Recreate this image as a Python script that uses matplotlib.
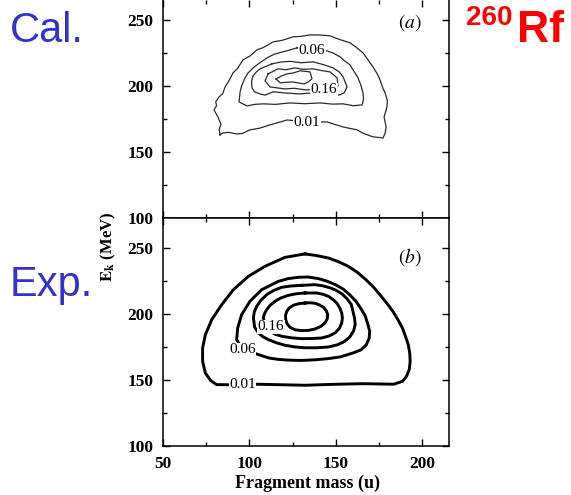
import matplotlib.pyplot as plt

plt.rcParams['mathtext.fontset'] = 'stix'
plt.rcParams['font.family'] = 'Liberation Serif'

# (a) calculated mass-energy distribution, contours
a_lev1_m = [83.0, 82.5, 83.5, 81.8, 79.5, 81.0, 80.5, 82.4, 84.5, 85.9, 88.0, 90.5, 93.0, 96.3, 100.5,
            104.4, 108.0, 113.7, 119.0, 125.2, 130.0, 135.1, 141.0, 146.6, 152.0, 158.2, 162.0, 165.7,
            169.0, 171.5, 174.0, 175.6, 177.0, 178.5, 179.8, 179.6, 177.9, 179.1, 178.5, 177.3, 171.5,
            166.0, 162.3, 154.2, 149.0, 144.9, 133.3, 121.8, 116.0, 112.0, 106.0, 100.3, 96.0, 92.8,
            88.0, 84.7, 83.0]
a_lev1_e = [162.9, 167.0, 171.0, 176.5, 181.8, 185.0, 188.0, 191.7, 194.0, 199.2, 203.5, 209.8, 213.0,
            219.7, 222.8, 227.3, 229.0, 233.3, 234.5, 237.1, 237.5, 238.6, 238.5, 237.9, 235.2, 232.6,
            229.0, 225.0, 219.0, 214.4, 209.0, 204.5, 199.0, 194.7, 189.0, 184.1, 176.5, 168.9, 164.0,
            160.6, 161.4, 164.0, 166.7, 168.9, 171.0, 172.7, 172.7, 174.2, 172.0, 170.5, 168.0, 166.7,
            164.0, 163.6, 164.8, 164.4, 162.9]
a_lev2_m = [127.5, 123.0, 119.4, 114.0, 110.2, 105.5, 102.1, 99.0, 96.9, 95.5, 94.6, 94.0, 98.6, 103.0,
            107.9, 115.0, 123.5, 132.0, 140.9, 148.0, 154.2, 160.0, 165.2, 166.0, 165.7, 164.5, 162.8,
            160.5, 158.2, 155.0, 152.4, 148.5, 144.9, 136.1, 127.5]
a_lev2_e = [228.8, 227.0, 225.8, 223.8, 221.2, 217.0, 213.6, 209.5, 204.5, 200.0, 195.5, 187.9, 184.8,
            186.0, 186.4, 186.0, 187.1, 186.5, 187.1, 186.2, 186.4, 185.0, 185.6, 190.0, 194.7, 200.5,
            206.1, 211.0, 215.9, 219.0, 222.0, 224.8, 226.5, 226.7, 228.8]
a_lev3_m = [113.1, 118.0, 123.5, 130.0, 136.8, 143.0, 148.4, 152.0, 154.2, 156.5, 155.0, 152.4, 146.0,
            140.9, 134.0, 129.3, 121.0, 113.7, 109.0, 106.1, 103.0, 101.5, 101.2, 102.1, 104.0, 106.1,
            113.1]
a_lev3_e = [216.7, 218.0, 218.6, 217.5, 218.2, 216.0, 213.6, 210.5, 206.8, 199.2, 195.0, 193.2, 192.8,
            193.2, 194.5, 193.9, 194.6, 195.5, 193.0, 193.9, 195.5, 198.5, 203.0, 207.6, 210.5, 212.9,
            216.7]
a_lev4_m = [110.8, 116.6, 121.0, 126.4, 131.0, 136.8, 142.0, 146.6, 150.7, 151.3, 143.2, 132.2, 126.0,
            120.6, 111.9, 109.0, 110.8]
a_lev4_e = [209.1, 212.9, 212.2, 213.6, 212.5, 212.9, 211.5, 210.6, 206.1, 200.0, 197.0, 197.0, 198.2,
            197.7, 199.2, 203.8, 209.1]
a_lev5_m = [115.4, 118.5, 121.8, 125.5, 129.3, 135.1, 136.2, 134.0, 131.6, 124.7, 117.7, 115.4]
a_lev5_e = [205.3, 207.5, 209.1, 209.8, 211.4, 210.6, 205.3, 203.0, 201.5, 203.0, 202.3, 205.3]

# (b) experimental distribution
b_lev1_m = [132.2, 139.0, 145.7, 151.5, 157.2, 162.5, 167.4, 171.7, 175.5, 179.3, 183.0, 186.0, 188.5,
            190.3, 191.9, 192.8, 193.0, 192.5, 191.0, 188.6, 183.5, 165.0, 145.7, 132.2, 118.7, 103.2,
            96.0, 81.0, 77.6, 74.5, 72.9, 72.9, 74.5, 78.2, 84.0, 90.7, 99.4, 109.0, 120.6, 132.2]
b_lev1_e = [245.5, 244.2, 242.4, 239.6, 236.1, 231.5, 226.0, 220.5, 214.6, 208.5, 202.0, 195.5, 189.4,
            183.0, 176.8, 170.0, 164.1, 158.0, 153.0, 149.0, 146.8, 147.2, 146.6, 146.0, 146.4, 146.8,
            146.3, 146.5, 149.5, 155.3, 164.1, 174.2, 184.3, 195.7, 207.1, 218.4, 228.5, 236.1, 242.9,
            245.5]
b_lev2_m = [96.1, 92.6, 93.2, 95.5, 100.3, 107.1, 116.7, 122.5, 128.3, 134.0, 139.9, 145.0, 149.8,
            154.3, 158.0, 161.5, 164.3, 167.0, 168.6, 169.6, 169.3, 167.6, 164.5, 160.2, 153.0, 145.7,
            138.0, 130.2, 123.5, 116.7, 111.5, 107.1, 104.2, 96.1]
b_lev2_e = [173.0, 180.6, 189.4, 199.5, 209.6, 218.4, 224.7, 226.8, 227.8, 228.0, 226.8, 224.8, 222.2,
            218.8, 214.6, 209.8, 204.5, 198.5, 191.9, 186.8, 181.8, 176.5, 172.8, 170.6, 167.6, 166.2,
            165.3, 164.8, 165.0, 165.6, 166.6, 168.4, 169.7, 173.0]
b_lev3_m = [130.2, 124.0, 118.7, 114.0, 110.0, 106.7, 104.2, 102.8, 102.3, 103.0, 105.2, 107.8, 110.9,
            115.5, 120.6, 126.5, 132.2, 139.0, 145.7, 150.8, 154.8, 158.0, 160.2, 161.2, 160.8, 159.0,
            156.5, 153.6, 149.8, 145.7, 141.8, 137.9, 130.2]
b_lev3_e = [221.7, 221.2, 220.2, 217.8, 214.6, 210.5, 205.8, 201.5, 197.0, 190.0, 185.6, 182.8, 180.6,
            178.2, 176.3, 175.0, 174.4, 174.4, 175.0, 176.6, 179.0, 182.5, 186.9, 192.0, 197.0, 207.1,
            211.5, 215.2, 218.2, 220.2, 221.5, 222.2, 221.7]
b_lev4_m = [132.2, 127.0, 122.5, 118.3, 114.8, 112.0, 110.0, 108.7, 108.0, 109.5, 111.9, 115.0, 118.7,
            124.5, 130.2, 136.0, 141.8, 146.0, 149.5, 152.0, 153.4, 153.8, 153.4, 152.2, 150.5, 148.3,
            145.7, 142.3, 138.9, 132.2]
b_lev4_e = [215.9, 215.3, 214.1, 212.2, 209.6, 206.6, 203.3, 200.2, 197.0, 190.5, 186.9, 184.6, 183.1,
            181.9, 181.3, 181.4, 181.8, 183.3, 185.6, 189.0, 193.2, 197.0, 200.8, 204.8, 208.3, 211.0,
            213.4, 215.0, 215.9, 215.9]
b_lev5_m = [132.2, 128.5, 125.4, 123.0, 121.6, 120.9, 121.0, 121.8, 123.5, 126.5, 130.2, 134.3, 137.9,
            141.2, 143.7, 145.0, 145.3, 144.5, 142.8, 140.5, 137.9, 135.0, 132.2]
b_lev5_e = [208.3, 207.8, 206.6, 204.5, 202.0, 199.0, 195.7, 192.5, 189.9, 188.0, 187.4, 187.6, 188.6,
            190.5, 193.2, 196.2, 199.5, 202.5, 205.1, 206.9, 208.1, 208.5, 208.3]

a_labels = ['0.06', '0.16', '0.01']
a_label_m = [136.1, 143.2, 133.2]
a_label_e = [226.7, 197.0, 172.2]
b_labels = ['0.16', '0.06', '0.01']
b_label_m = [112.5, 96.1, 96.0]
b_label_e = [190.2, 173.0, 146.3]

mass_ticks = [50, 100, 150, 200]
ek_ticks = [100, 150, 200, 250]

fig = plt.figure(figsize=(5.71, 4.95), dpi=100)
ax_a = fig.add_axes([0.2855, 0.5596, 0.5009, 0.4404])
ax_b = fig.add_axes([0.2855, 0.0990, 0.5009, 0.4606])

a_curves = [(a_lev1_m, a_lev1_e), (a_lev2_m, a_lev2_e), (a_lev3_m, a_lev3_e),
            (a_lev4_m, a_lev4_e), (a_lev5_m, a_lev5_e)]
b_curves = [(b_lev1_m, b_lev1_e), (b_lev2_m, b_lev2_e), (b_lev3_m, b_lev3_e),
            (b_lev4_m, b_lev4_e), (b_lev5_m, b_lev5_e)]

for m, e in a_curves:
    ax_a.plot(m, e, color='#2a2a2a', lw=0.9)
for m, e in b_curves:
    ax_b.plot(m, e, color='black', lw=2.1, solid_joinstyle='round')

for ax, labs, lm, le in [(ax_a, a_labels, a_label_m, a_label_e), (ax_b, b_labels, b_label_m, b_label_e)]:
    for t, m, e in zip(labs, lm, le):
        ax.text(m, e, t, ha='center', va='center', fontsize=11, zorder=5,
                bbox=dict(facecolor='white', edgecolor='none', pad=0.3))

ax_a.set_ylim(100, 265)
ax_b.set_ylim(100, 272.7)
for ax in [ax_a, ax_b]:
    ax.set_xlim(50, 215.5)
    ax.set_xticks(mass_ticks)
    ax.set_xticks([75, 125, 175], minor=True)
    ax.set_yticks(ek_ticks)
    ax.set_yticks([125, 175, 225], minor=True)
    ax.tick_params(which='both', direction='in', top=True, right=True, width=1.0)
    ax.tick_params(which='major', length=5, pad=7, labelsize=12.5)
    ax.tick_params(which='minor', length=3)
    for s in ax.spines.values():
        s.set_linewidth(1.1)
    for lab in ax.get_yticklabels() + ax.get_xticklabels():
        lab.set_fontweight('bold')
ax_a.spines['top'].set_visible(False)
ax_a.tick_params(labelbottom=False)
ax_b.tick_params(axis='x', pad=7)

ax_a.text(0.82, 0.897, '$(a)$', transform=ax_a.transAxes, fontsize=14, va='center')
ax_b.text(0.82, 0.829, '$(b)$', transform=ax_b.transAxes, fontsize=14, va='center')

fig.text(0.189, 0.501, r'$\mathbf{E_k}$ (MeV)', rotation=90, ha='center', va='center',
         fontsize=12, fontweight='bold')
fig.text(0.539, 0.024, 'Fragment mass (u)', ha='center', va='center', fontsize=13, fontweight='bold')

fig.text(0.0175, 0.915, 'Cal.', color='#3333cc', fontsize=30, family='Liberation Sans', va='baseline')
fig.text(0.016, 0.402, 'Exp.', color='#3333cc', fontsize=30, family='Liberation Sans', va='baseline')
fig.text(0.816, 0.9495, '260', color='red', fontsize=20, fontweight='bold', family='Liberation Sans',
         va='baseline')
fig.text(0.905, 0.9158, 'Rf', color='red', fontsize=32, fontweight='bold', family='Liberation Sans',
         va='baseline')

fig.savefig('out.png', dpi=100)
